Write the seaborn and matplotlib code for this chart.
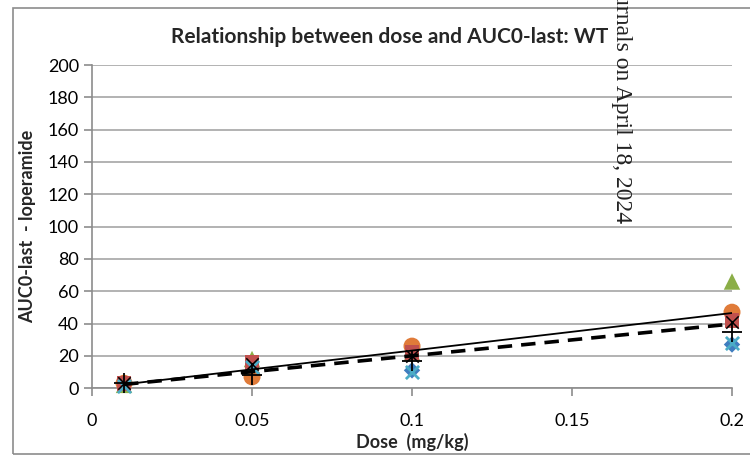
import matplotlib
matplotlib.use('Agg')

import numpy as np
import pandas as pd
import seaborn as sns
import matplotlib.pyplot as plt
from matplotlib.patches import Rectangle

doses = [0.01, 0.05, 0.1, 0.2]

# AUC0-last per animal series
blue_diamond = [2, 9, 11, 27]
orange_circle = [3, 7, 26, 47]
green_triangle = [2, 18, 22, 66]
red_square = [3, 16, 22, 42]
teal_x = [1, 13, 10, 28]
black_x = [3, 15, 20, 41]
black_plus = [3, 8, 17, 35]

series_names = ['S1', 'S2', 'S3', 'S4', 'S5', 'S6', 'S7']
series_values = [blue_diamond, orange_circle, green_triangle, red_square,
                 teal_x, black_x, black_plus]

# trendlines
fit_dose = [0.01, 0.2]
fit_solid = [2.3, 46.5]
fit_dashed = [2.3, 39.7]

rows = []
for name, vals in zip(series_names, series_values):
    for d, v in zip(doses, vals):
        rows.append({'Dose': d, 'AUC': v, 'Series': name})
df = pd.DataFrame(rows)

sns.set_style('white')
plt.rcParams['font.family'] = ['Lato', 'DejaVu Sans']

fig = plt.figure(figsize=(7.5, 4.55), dpi=100)
ax = fig.add_axes([0.1227, 0.147, 0.8533, 0.71])

# outer chart frame
fig.patches.append(Rectangle((13 / 750, 1 / 455), 1.2, 446 / 455, transform=fig.transFigure,
                             fill=False, edgecolor='#8c8c8c', linewidth=1.2, zorder=0))

ax.set_ylim(0, 200)
ax.set_xlim(0, 0.2)
ax.set_yticks(np.arange(0, 201, 20))
ax.set_xticks([0, 0.05, 0.1, 0.15, 0.2])
ax.set_xticklabels(['0', '0.05', '0.1', '0.15', '0.2'])
ax.yaxis.grid(True, color='#a6a6a6', linewidth=1.2)
ax.set_axisbelow(True)

styles = {
    'S1': dict(marker='D', color='#3f7dbf', s=70),
    'S2': dict(marker='o', color='#e07b39', s=150),
    'S3': dict(marker='^', color='#8bae47', s=140),
    'S4': dict(marker='s', color='#c0504d', s=110),
    'S5': dict(marker='x', color='#4bacc6', s=90, linewidths=2),
    'S6': dict(marker='x', color='black', s=80, linewidths=1.1),
    'S7': dict(marker='+', color='black', s=200, linewidths=1.3),
}
for name in series_names:
    sub = df[df['Series'] == name]
    sns.scatterplot(data=sub, x='Dose', y='AUC', ax=ax, clip_on=False,
                    edgecolor='none' if styles[name]['marker'] not in ('x', '+') else None,
                    zorder=3, **styles[name])

sns.lineplot(x=fit_dose, y=fit_solid, ax=ax, color='black', linewidth=1.3, zorder=4)
sns.lineplot(x=fit_dose, y=fit_dashed, ax=ax, color='black', linewidth=2.6,
             linestyle=(0, (4, 2.5)), zorder=4)

for side in ['top', 'right']:
    ax.spines[side].set_visible(False)
for side in ['left', 'bottom']:
    ax.spines[side].set_color('#8c8c8c')
    ax.spines[side].set_linewidth(1.2)
ax.tick_params(axis='both', direction='out', length=6, color='#8c8c8c', width=1.2,
               labelsize=13, labelcolor='black', bottom=True, left=True)
ax.tick_params(axis='x', pad=12)

ax.set_xlabel('Dose  (mg/kg)', fontsize=13, fontweight='bold', labelpad=3)
ax.set_ylabel('AUC0-last  - loperamide', fontsize=13, fontweight='bold', labelpad=8)
ax.set_title('Relationship between dose and AUC0-last: WT', fontsize=15,
             fontweight='bold', pad=16, x=0.465)

# watermark from the source page
fig.text(0.829, 1.015, 'urnals on April 18, 2024', rotation=270, va='top', ha='center',
         fontsize=17, family=['Liberation Serif', 'DejaVu Serif'], color='#222222')

fig.savefig('out.png', dpi=100)
